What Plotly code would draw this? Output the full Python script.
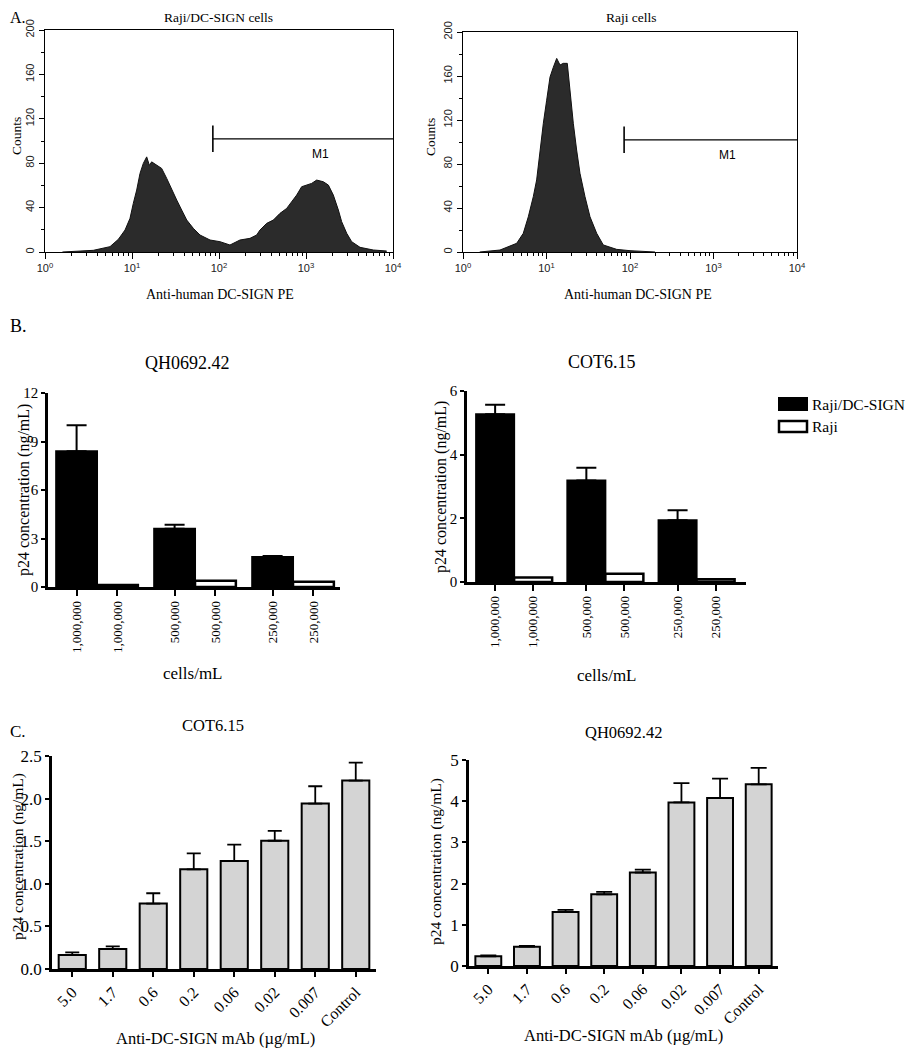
import plotly.graph_objects as go

# The page body adds an 8px margin; the figure is sized so that it ends exactly at the window edge.
PAGE_W, PAGE_H = 915, 1050
OFF = 8
W, H = PAGE_W - OFF, PAGE_H - OFF

# ---------------- Panel A data (flow cytometry histograms) ----------------
a_left_log = [0.2, 0.36, 0.555, 0.747, 0.843, 0.92, 0.977, 1.015, 1.054, 1.092, 1.13, 1.169, 1.2,
              1.226, 1.284, 1.341, 1.399, 1.456, 1.514, 1.571, 1.629, 1.705, 1.782, 1.897, 2.011,
              2.126, 2.241, 2.356, 2.433, 2.471, 2.548, 2.625, 2.701, 2.778, 2.835, 2.893, 2.95,
              3.008, 3.065, 3.123, 3.199, 3.257, 3.314, 3.372, 3.41, 3.468, 3.525, 3.621, 3.774, 3.927]
a_left_counts = [0, 0.5, 1.5, 4.8, 11.4, 19.8, 30.3, 43.8, 55.8, 70.8, 79.8, 85.7, 78,
                 81.2, 78.2, 75.3, 66.3, 55.8, 46.8, 37.8, 28.8, 21.3, 15.3, 10.8, 9.3,
                 6.3, 10.8, 12.3, 15.3, 19.8, 25.8, 28.8, 34.8, 39.3, 45.3, 51.3, 58.8,
                 60.3, 61.8, 64.8, 63.3, 60.3, 51.3, 37.8, 27.3, 16.8, 9.3, 4.2, 1.8, 0.9]
a_right_log = [0.2, 0.35, 0.443, 0.643, 0.722, 0.782, 0.842, 0.882, 0.922, 0.962, 1.002, 1.042,
               1.082, 1.122, 1.162, 1.201, 1.249, 1.281, 1.321, 1.361, 1.401, 1.461, 1.521, 1.601,
               1.68, 1.84, 2.0, 2.3]
a_right_counts = [0, 0.8, 1.8, 7.9, 17, 32, 50.3, 65.5, 92.7, 117, 138, 159,
                  168, 176, 170, 171.5, 171.5, 144, 117, 92.7, 71.5, 50.3, 32, 17,
                  6.4, 2.4, 1.2, 0]
gate_start = 85
gate_end = 10000
gate_level = 102
gate_tick = [90, 114]
a_titles = ["Raji/DC-SIGN cells", "Raji cells"]

# ---------------- Panel B data ----------------
b_labels = ["1,000,000", "1,000,000", "500,000", "500,000", "250,000", "250,000"]
b_groups = ["1,000,000", "500,000", "250,000"]
b_qh_dcsign = [8.4, 3.6, 1.86]
b_qh_dcsign_err = [1.6, 0.25, 0.05]
b_qh_raji = [0.12, 0.39, 0.33]
b_cot_dcsign = [5.27, 3.19, 1.94]
b_cot_dcsign_err = [0.3, 0.4, 0.31]
b_cot_raji = [0.14, 0.26, 0.09]

# ---------------- Panel C data ----------------
c_doses = ["5.0", "1.7", "0.6", "0.2", "0.06", "0.02", "0.007", "Control"]
c_cot = [0.164, 0.234, 0.768, 1.17, 1.268, 1.505, 1.942, 2.211]
c_cot_err = [0.031, 0.031, 0.121, 0.187, 0.191, 0.117, 0.203, 0.211]
c_qh = [0.235, 0.47, 1.31, 1.74, 2.27, 3.97, 4.08, 4.41]
c_qh_err = [0.025, 0.02, 0.05, 0.06, 0.07, 0.47, 0.47, 0.40]

SERIF = "Liberation Serif"
SANS = "Liberation Sans"


def px(x):
    return (x - OFF) / W


def py(y):
    return 1 - (y - OFF) / H


fig = go.Figure()

# ---------- Panel A ----------
hist_color = "#2b2b2b"
for i, (lg, ct) in enumerate([(a_left_log, a_left_counts), (a_right_log, a_right_counts)]):
    xa = "x" if i == 0 else "x2"
    ya = "y" if i == 0 else "y2"
    fig.add_trace(go.Scatter(x=[10 ** v for v in lg], y=ct, mode="lines", fill="tozeroy",
                             fillcolor=hist_color, line=dict(color="#111111", width=1),
                             xaxis=xa, yaxis=ya, showlegend=False, hoverinfo="skip"))
    # gate M1
    fig.add_trace(go.Scatter(x=[gate_start, gate_end], y=[gate_level, gate_level], mode="lines",
                             line=dict(color="black", width=1.3), xaxis=xa, yaxis=ya,
                             showlegend=False, hoverinfo="skip"))
    fig.add_trace(go.Scatter(x=[gate_start, gate_start], y=gate_tick, mode="lines",
                             line=dict(color="black", width=1.6), xaxis=xa, yaxis=ya,
                             showlegend=False, hoverinfo="skip"))

major = [1, 10, 100, 1000, 10000]
minor_vals = [m * d for d in [1, 10, 100, 1000] for m in range(2, 10)]
a_xaxis = dict(type="log", range=[0, 4], tickvals=major, automargin=False,
               ticktext=["10<sup>0</sup>", "10<sup>1</sup>", "10<sup>2</sup>", "10<sup>3</sup>", "10<sup>4</sup>"],
               ticks="outside", ticklen=6, tickwidth=1.2, tickcolor="black",
               minor=dict(tickvals=minor_vals, ticks="outside", ticklen=3, tickwidth=1, tickcolor="black"),
               showline=True, linecolor="black", linewidth=1.3, mirror=True, showgrid=False, zeroline=False,
               tickfont=dict(family=SANS, size=11, color="#222"))
a_yaxis = dict(range=[0, 200], tickvals=[0, 40, 80, 120, 160, 200], tickangle=-90, automargin=False,
               ticks="outside", ticklen=5, tickwidth=1.2, tickcolor="black",
               minor=dict(dtick=20, ticks="outside", ticklen=3, tickwidth=1, tickcolor="black"),
               showline=True, linecolor="black", linewidth=1.3, mirror=True, showgrid=False, zeroline=False,
               tickfont=dict(family=SANS, size=11, color="#222"))

fig.update_layout(
    xaxis=dict(domain=[px(45), px(393)], anchor="y", **a_xaxis),
    yaxis=dict(domain=[py(252), py(30)], anchor="x", **a_yaxis),
    xaxis2=dict(domain=[px(463), px(797)], anchor="y2", **a_xaxis),
    yaxis2=dict(domain=[py(252), py(32)], anchor="x2", **a_yaxis),
)

# ---------- Panel B ----------
pitch = 2.4
grp_pos = [g * pitch for g in range(len(b_groups))]
black_pos = grp_pos
white_pos = [p + 1 for p in grp_pos]
all_pos = [v for pair in zip(black_pos, white_pos) for v in pair]

for i, (dc, dce, rj) in enumerate([(b_qh_dcsign, b_qh_dcsign_err, b_qh_raji),
                                    (b_cot_dcsign, b_cot_dcsign_err, b_cot_raji)]):
    xa = "x3" if i == 0 else "x4"
    ya = "y3" if i == 0 else "y4"
    fig.add_trace(go.Bar(x=black_pos, y=dc, width=1, marker=dict(color="black", line=dict(color="black", width=2)),
                         error_y=dict(type="data", symmetric=False, array=dce, arrayminus=[0] * len(dce),
                                      color="black", thickness=2, width=10),
                         xaxis=xa, yaxis=ya, showlegend=False, name="Raji/DC-SIGN"))
    fig.add_trace(go.Bar(x=white_pos, y=rj, width=1, marker=dict(color="white", line=dict(color="black", width=2.5)),
                         xaxis=xa, yaxis=ya, showlegend=False, name="Raji"))

b_xcommon = dict(tickvals=all_pos, ticktext=b_labels, tickangle=-90, ticks="outside", ticklen=6,
                 tickwidth=2, tickcolor="black", showline=True, linecolor="black", linewidth=2.5,
                 showgrid=False, zeroline=False, automargin=False,
                 tickfont=dict(family=SERIF, size=13, color="black"))
b_ycommon = dict(ticks="outside", ticklen=4, tickwidth=2, tickcolor="black", showline=True,
                 linecolor="black", linewidth=2.5, showgrid=False, zeroline=False, automargin=False,
                 tickfont=dict(family=SERIF, size=15, color="black"))
fig.update_layout(
    xaxis3=dict(domain=[px(48), px(340)], anchor="y3", range=[-0.7, 6.45], **b_xcommon),
    yaxis3=dict(domain=[py(587), py(393)], anchor="x3", range=[0, 12], tickvals=[0, 3, 6, 9, 12], **b_ycommon),
    xaxis4=dict(domain=[px(467), px(746)], anchor="y4", range=[-0.74, 6.6], **b_xcommon),
    yaxis4=dict(domain=[py(582), py(391)], anchor="x4", range=[0, 6], tickvals=[0, 2, 4, 6], **b_ycommon),
)

# ---------- Panel C ----------
for i, (vals, errs, cap) in enumerate([(c_cot, c_cot_err, 7), (c_qh, c_qh_err, 8)]):
    xa = "x5" if i == 0 else "x6"
    ya = "y5" if i == 0 else "y6"
    fig.add_trace(go.Bar(x=c_doses, y=vals, marker=dict(color="#d4d4d4", line=dict(color="black", width=2)),
                         error_y=dict(type="data", symmetric=False, array=errs, arrayminus=[0] * len(errs),
                                      color="black", thickness=1.8, width=cap),
                         xaxis=xa, yaxis=ya, showlegend=False))

c_xcommon = dict(type="category", tickangle=-45, ticks="outside", ticklen=5, tickwidth=2, tickcolor="black",
                 showline=True, linecolor="black", linewidth=2.5, showgrid=False, zeroline=False,
                 automargin=False, tickfont=dict(family=SERIF, size=16, color="black"))
c_ycommon = dict(ticks="outside", ticklen=4, tickwidth=2, tickcolor="black", showline=True,
                 linecolor="black", linewidth=2.5, showgrid=False, zeroline=False, automargin=False,
                 tickfont=dict(family=SERIF, size=17, color="black"))
fig.update_layout(
    xaxis5=dict(domain=[px(52), px(376)], anchor="y5", range=[-0.5, 7.5], **c_xcommon),
    yaxis5=dict(domain=[py(969), py(756)], anchor="x5", range=[0, 2.5], dtick=0.5, tickformat=".1f", **c_ycommon),
    xaxis6=dict(domain=[px(469), px(778)], anchor="y6", range=[-0.5, 7.5], **c_xcommon),
    yaxis6=dict(domain=[py(966), py(760)], anchor="x6", range=[0, 5], dtick=1, **c_ycommon),
    bargap=0.33,
)

# ---------- Annotations ----------
ann = []


def text(x, y, t, size, family=SERIF, angle=0, xanchor="center"):
    ann.append(dict(x=px(x), y=py(y), xref="paper", yref="paper", text=t, showarrow=False,
                    font=dict(family=family, size=size, color="black"), textangle=angle,
                    xanchor=xanchor, yanchor="middle"))


# Panel A
text(8, 17, "A.", 16, xanchor="left")
text(218, 17, a_titles[0], 13.5)
text(631, 17, a_titles[1], 13.5)
text(17, 136, "Counts", 13.5, angle=-90)
text(430, 137, "Counts", 13.5, angle=-90)
text(220, 294, "Anti-human DC-SIGN PE", 14)
text(638, 294, "Anti-human DC-SIGN PE", 14)
for xa, ya in [("x", "y"), ("x2", "y2")]:
    ann.append(dict(x=3.17, y=88, xref=xa, yref=ya, text="M1", showarrow=False,
                    font=dict(family=SANS, size=12, color="black")))

# Panel B
text(8, 326, "B.", 18, xanchor="left")
text(187, 363, "QH0692.42", 18)
text(602, 362, "COT6.15", 18)
text(24, 490, "p24 concentration (ng/mL)", 16, angle=-90)
text(441, 487, "p24 concentration (ng/mL)", 16, angle=-90)
text(192, 673, "cells/mL", 17)
text(606, 675, "cells/mL", 17)
text(810, 404, "Raji/DC-SIGN", 15.5, xanchor="left")
text(810, 426, "Raji", 15.5, xanchor="left")

# Panel C
text(8, 731, "C.", 17, xanchor="left")
text(213, 725, "COT6.15", 16.5)
text(623, 732, "QH0692.42", 16.5)
text(18, 857, "p24 concentration (ng/mL)", 15.5, angle=-90)
text(436, 862, "p24 concentration (ng/mL)", 15.5, angle=-90)
text(215, 1038, "Anti-DC-SIGN mAb (µg/mL)", 16.5)
text(623, 1035, "Anti-DC-SIGN mAb (µg/mL)", 16.5)

shapes = [
    dict(type="rect", xref="paper", yref="paper", x0=px(779), x1=px(807), y0=py(410), y1=py(398),
         fillcolor="black", line=dict(color="black", width=2)),
    dict(type="rect", xref="paper", yref="paper", x0=px(779), x1=px(807), y0=py(432), y1=py(421),
         fillcolor="white", line=dict(color="black", width=2.5)),
]

fig.update_layout(width=W, height=H, margin=dict(l=0, r=0, t=0, b=0, autoexpand=False),
                  paper_bgcolor="white", plot_bgcolor="white",
                  annotations=ann, shapes=shapes, showlegend=False)

fig.write_html("out.html")
